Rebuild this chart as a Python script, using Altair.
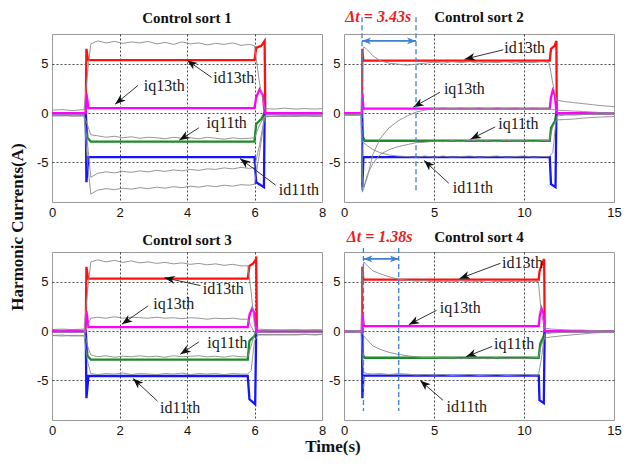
import math
import altair as alt
import pandas as pd

# ---------------- data ----------------
Y_MIN, Y_MAX = -9, 8
LEFT_XTICKS = [0, 2, 4, 6, 8]
RIGHT_XTICKS = [0, 5, 10, 15]
Y_TICKS = [-5, 0, 5]
TITLES = ["Control sort 1", "Control sort 2", "Control sort 3", "Control sort 4"]
LABELS = ["id13th", "iq13th", "iq11th", "id11th"]

# Panel 1 (0..8 s)
P1_RED_T = [0, 1.0, 1.02, 1.07, 6.0, 6.05, 6.2, 6.3, 6.32, 8]
P1_RED_V = [0, 0, 6.5, 5.35, 5.35, 6.6, 6.8, 7.3, 0, 0]
P1_MAG_T = [0, 1.0, 1.02, 1.08, 6.0, 6.05, 6.15, 6.25, 6.3, 8]
P1_MAG_V = [0, 0, 2.0, 0.5, 0.5, 1.6, 2.4, 1.8, 0, 0]
P1_GRN_T = [0, 1.0, 1.05, 1.15, 6.0, 6.05, 6.2, 6.3, 8]
P1_GRN_V = [0, 0, -2.5, -2.9, -2.9, -1.1, -0.6, 0, 0]
P1_BLU_T = [0, 1.0, 1.02, 1.08, 6.0, 6.05, 6.28, 6.3, 8]
P1_BLU_V = [0, 0, -7.0, -4.45, -4.45, -7.0, -7.5, 0, 0]
P1_GT = [0, 0.3, 0.6, 0.95, 1.05, 1.15, 1.35, 1.6, 1.85, 2.1, 2.35, 2.6, 2.85, 3.1,
         3.35, 3.6, 3.85, 4.1, 4.35, 4.6, 4.85, 5.1, 5.35, 5.6, 5.85, 6.0, 6.15, 6.3,
         6.6, 6.9, 7.2, 7.5, 7.8, 8.0]
P1_G1 = [0.3, 0.35, 0.25, 0.35, 4.0, 7.0, 7.3, 7.1, 7.25, 7.05, 7.2, 7.1, 7.25, 7.0,
         7.15, 6.95, 7.2, 7.0, 7.1, 6.9, 7.05, 6.95, 7.1, 6.85, 6.95, 6.8, 3.0, 0.45,
         0.4, 0.5, 0.4, 0.45, 0.4, 0.45]
P1_G2 = [-0.25, -0.2, -0.3, -0.25, -1.2, -2.2, -2.3, -2.45, -2.35, -2.5, -2.4, -2.55,
         -2.45, -2.5, -2.6, -2.45, -2.55, -2.5, -2.6, -2.45, -2.55, -2.65, -2.5, -2.6,
         -2.55, -2.5, -1.2, -0.3, -0.3, -0.25, -0.35, -0.3, -0.25, -0.3]
P1_G3 = [-0.25, -0.3, -0.2, -0.25, -3.0, -6.5, -6.1, -5.95, -6.05, -5.9, -6.0, -5.85,
         -5.95, -5.8, -5.9, -5.75, -5.85, -5.7, -5.8, -5.65, -5.7, -5.55, -5.65, -5.5,
         -5.6, -5.5, -3.2, -0.3, -0.35, -0.3, -0.25, -0.3, -0.35, -0.3]
P1_G4 = [-0.3, -0.25, -0.3, -0.3, -5.0, -8.2, -7.8, -7.65, -7.75, -7.6, -7.7, -7.55,
         -7.65, -7.5, -7.6, -7.45, -7.55, -7.4, -7.5, -7.35, -7.45, -7.3, -7.4, -7.25,
         -7.3, -7.2, -4.0, -0.4, -0.3, -0.35, -0.3, -0.25, -0.3, -0.3]
# label text (x, y), arrow start (x, y), arrow tip (x, y)
P1_ARROWS = [
    (4.78, 3.5, 4.73, 3.6, 4.0, 5.35),
    (2.72, 2.7, 2.55, 2.8, 1.87, 0.9),
    (4.58, -1.0, 4.35, -1.5, 3.77, -2.75),
    (6.72, -7.8, 6.63, -7.3, 5.57, -4.6),
]

# Panel 2 (0..15 s)
P2_RED_T = [0, 1.0, 1.02, 1.07, 11.43, 11.5, 11.7, 11.8, 11.82, 15]
P2_RED_V = [0, 0, 6.5, 5.3, 5.3, 6.5, 6.8, 7.3, 0, 0]
P2_MAG_T = [0, 1.0, 1.02, 1.08, 11.43, 11.5, 11.6, 11.72, 11.8, 15]
P2_MAG_V = [0, 0, 2.0, 0.45, 0.45, 1.6, 2.3, 1.8, 0, 0]
P2_GRN_T = [0, 1.0, 1.05, 1.15, 11.43, 11.5, 11.72, 11.8, 15]
P2_GRN_V = [0, 0, -2.4, -2.8, -2.8, -1.5, -0.8, 0, 0]
P2_BLU_T = [0, 1.0, 1.02, 1.08, 11.43, 11.5, 11.75, 11.8, 15]
P2_BLU_V = [0, 0, -7.5, -4.45, -4.45, -7.2, -7.5, 0, 0]
P2_GT = [0, 0.5, 0.95, 1.02, 1.1, 1.3, 1.6, 2.0, 2.5, 3.0, 3.5, 4.0, 4.5, 5.0, 5.5,
         6.0, 6.5, 7.0, 7.5, 8.0, 8.5, 9.0, 9.5, 10.0, 10.5, 11.0, 11.4, 11.6, 11.8,
         12.3, 12.8, 13.3, 13.8, 14.3, 15.0]
P2_G1 = [-0.1, -0.15, -0.1, 5.5, 6.7, 6.4, 5.8, 5.3, 5.05, 4.95, 4.85, 4.95, 5.05,
         5.15, 5.05, 5.2, 5.1, 5.2, 5.05, 5.15, 5.1, 5.2, 5.05, 5.15, 5.1, 5.2, 5.1,
         3.0, 1.3, 1.15, 1.05, 0.95, 0.85, 0.75, 0.65]
P2_G2 = [-0.2, -0.15, -0.2, -6.0, -7.5, -6.5, -4.2, -2.6, -1.5, -0.8, -0.3, 0.1, 0.3,
         0.45, 0.5, 0.45, 0.5, 0.45, 0.5, 0.45, 0.5, 0.45, 0.5, 0.45, 0.5, 0.45, 0.45,
         0.35, 0.3, 0.25, 0.2, 0.15, 0.1, 0.05, 0.05]
P2_G3 = [-0.15, -0.2, -0.15, -8.0, -7.6, -6.2, -5.1, -4.2, -3.7, -3.4, -3.2, -3.0,
         -2.95, -2.85, -2.9, -2.8, -2.9, -2.75, -2.85, -2.8, -2.9, -2.75, -2.85, -2.8,
         -2.9, -2.8, -2.8, -1.4, -0.7, -0.65, -0.6, -0.5, -0.45, -0.4, -0.35]
P2_G4 = [-0.2, -0.25, -0.2, -2.9, -3.0, -3.3, -3.7, -4.0, -4.25, -4.35, -4.4, -4.45,
         -4.35, -4.45, -4.35, -4.45, -4.4, -4.35, -4.45, -4.4, -4.35, -4.45, -4.4,
         -4.35, -4.45, -4.4, -4.4, -4.0, -0.3, -0.2, -0.2, -0.15, -0.1, -0.1, -0.05]
P2_ARROWS = [
    (8.9, 6.6, 8.85, 6.4, 6.7, 5.45),
    (5.55, 2.4, 5.33, 2.1, 3.85, 0.6),
    (8.57, -1.1, 8.4, -1.4, 7.03, -2.65),
    (6.04, -7.6, 5.82, -7.1, 4.45, -4.8),
]
P2_DT_LABEL = "\u0394t = 3.43s"
P2_DT_X = [1.0, 4.0]

# Panel 3 (0..8 s)
P3_RED_T = [0, 1.0, 1.02, 1.07, 5.8, 5.85, 5.95, 6.05, 6.07, 8]
P3_RED_V = [0, 0, 6.5, 5.3, 5.3, 6.6, 6.8, 7.3, 0, 0]
P3_MAG_T = [0, 1.0, 1.02, 1.08, 5.8, 5.85, 5.93, 6.0, 6.05, 8]
P3_MAG_V = [0, 0, 2.0, 0.4, 0.4, 1.6, 2.3, 1.8, 0, 0]
P3_GRN_T = [0, 1.0, 1.05, 1.15, 5.8, 5.85, 6.0, 6.05, 8]
P3_GRN_V = [0, 0, -2.5, -2.9, -2.9, -1.0, -0.5, 0, 0]
P3_BLU_T = [0, 1.0, 1.02, 1.08, 5.8, 5.85, 6.02, 6.05, 8]
P3_BLU_V = [0, 0, -6.8, -4.55, -4.55, -6.9, -7.4, 0, 0]
P3_GT = [0, 0.3, 0.6, 0.95, 1.05, 1.15, 1.35, 1.6, 1.85, 2.1, 2.35, 2.6, 2.85, 3.1,
         3.35, 3.6, 3.85, 4.1, 4.35, 4.6, 4.85, 5.1, 5.35, 5.6, 5.8, 5.9, 6.0, 6.1,
         6.4, 6.8, 7.2, 7.5, 7.8, 8.0]
P3_G1 = [0.15, 0.2, 0.15, 0.2, 4.0, 7.0, 7.2, 7.0, 7.15, 6.95, 7.1, 6.9, 7.0, 6.85,
         6.95, 6.8, 6.9, 6.75, 6.85, 6.7, 6.8, 6.65, 6.75, 6.6, 6.6, 4.0, 0.5, 0.2,
         0.15, 0.1, 0.15, 0.1, 0.15, 0.1]
P3_G2 = [-0.45, -0.4, -0.5, -0.45, 0.5, 1.3, 1.4, 1.3, 1.45, 1.3, 1.4, 1.35, 1.3, 1.4,
         1.3, 1.35, 1.25, 1.35, 1.3, 1.2, 1.3, 1.25, 1.3, 1.2, 1.2, 0.5, -0.2, -0.35,
         -0.35, -0.4, -0.35, -0.3, -0.35, -0.3]
P3_G3 = [0.15, 0.1, 0.15, 0.1, -1.5, -2.4, -2.6, -2.5, -2.65, -2.55, -2.6, -2.5, -2.6,
         -2.55, -2.65, -2.5, -2.6, -2.55, -2.5, -2.6, -2.55, -2.65, -2.5, -2.6, -2.6,
         -1.5, -0.3, 0.0, 0.05, 0.1, 0.05, 0.1, 0.05, 0.1]
P3_G4 = [-0.45, -0.5, -0.45, -0.5, -3.0, -4.3, -4.4, -4.3, -4.35, -4.25, -4.4, -4.3,
         -4.35, -4.4, -4.3, -4.35, -4.25, -4.4, -4.3, -4.35, -4.3, -4.4, -4.3, -4.35,
         -4.35, -4.0, -1.0, -0.4, -0.4, -0.35, -0.4, -0.35, -0.4, -0.35]
P3_ARROWS = [
    (4.47, 4.25, 4.4, 4.6, 3.33, 5.4),
    (3.0, 2.7, 2.85, 2.55, 2.07, 0.7),
    (4.6, -1.2, 4.35, -1.1, 3.8, -2.35),
    (3.2, -7.75, 3.13, -7.1, 2.4, -4.8),
]

# Panel 4 (0..15 s)
P4_RED_T = [0, 1.0, 1.02, 1.07, 10.82, 10.86, 11.0, 11.12, 11.15, 15]
P4_RED_V = [0, 0, 6.5, 5.2, 5.2, 6.0, 6.8, 7.3, 0, 0]
P4_MAG_T = [0, 1.0, 1.02, 1.1, 10.82, 10.88, 10.97, 11.08, 11.15, 15]
P4_MAG_V = [0, 0, 1.8, 0.5, 0.5, 1.6, 2.3, 1.8, 0, 0]
P4_GRN_T = [0, 1.0, 1.05, 1.15, 10.82, 10.9, 11.1, 11.15, 15]
P4_GRN_V = [0, 0, -2.4, -2.7, -2.7, -1.3, -0.5, 0, 0]
P4_BLU_T = [0, 1.0, 1.02, 1.08, 10.82, 10.86, 11.1, 11.15, 15]
P4_BLU_V = [0, 0, -6.8, -4.5, -4.5, -7.0, -7.3, 0, 0]
P4_GT = [0, 0.5, 0.95, 1.02, 1.1, 1.3, 1.6, 2.0, 2.5, 3.0, 3.5, 4.0, 4.5, 5.0, 5.5,
         6.0, 6.5, 7.0, 7.5, 8.0, 8.5, 9.0, 9.5, 10.0, 10.5, 10.8, 10.95, 11.15, 11.5,
         12.0, 12.6, 13.2, 13.8, 14.4, 15.0]
P4_G1 = [0.0, 0.05, 0.0, 5.5, 7.0, 6.6, 6.1, 5.8, 5.5, 5.25, 5.15, 5.05, 5.1, 4.95,
         5.05, 4.95, 5.1, 4.95, 5.05, 4.9, 5.05, 4.95, 5.05, 4.95, 5.05, 5.0, 2.0, 0.3,
         0.2, 0.15, 0.1, 0.1, 0.05, 0.05, 0.0]
P4_G2 = [-0.05, -0.1, -0.05, -0.2, -0.5, -0.9, -1.5, -1.85, -2.15, -2.35, -2.5, -2.6,
         -2.7, -2.65, -2.75, -2.7, -2.8, -2.7, -2.75, -2.8, -2.7, -2.8, -2.75, -2.8,
         -2.7, -2.7, -1.5, -0.7, -0.6, -0.5, -0.4, -0.3, -0.2, -0.15, -0.1]
P4_G3 = [0.0, 0.05, 0.0, -3.0, -4.2, -4.3, -4.35, -4.3, -4.4, -4.3, -4.35, -4.45,
         -4.4, -4.45, -4.4, -4.5, -4.45, -4.4, -4.5, -4.45, -4.4, -4.5, -4.45, -4.4,
         -4.45, -4.45, -3.0, -0.3, -0.2, -0.15, -0.1, -0.1, -0.05, -0.05, 0.0]
P4_ARROWS = [
    (8.78, 6.86, 8.69, 6.86, 6.41, 5.3),
    (5.32, 2.3, 5.14, 2.1, 3.6, 0.65),
    (8.33, -1.3, 8.24, -1.55, 6.78, -2.6),
    (5.7, -7.7, 5.5, -7.0, 4.23, -5.0),
]
P4_DT_LABEL = "\u0394t = 1.38s"
P4_DT_X = [1.08, 3.04]

# ---------------- styling ----------------
W, H = 270, 168
RED, MAG, GRN, BLU = "#ff1010", "#ff00ff", "#1f8a2a", "#1414ff"
GREY = "#8a8a8a"
DT_BLUE = "#3f7fd6"
SERIF = "Liberation Serif"
SANS = "Liberation Sans"
HEAD = "M0,0L-0.75,2L0,1.45L0.75,2Z"


def panel(xmax, xticks, colored, gt, greys, arrows, title, title_y, dt=None, extra=None):
    kx = W / xmax
    ky = H / (Y_MAX - Y_MIN)
    inner_x = [v for v in xticks if 0 < v < xmax]
    xax = alt.Axis(values=xticks, title=None, grid=True, labelExpr="'' + datum.value",
                   labelFlush=False,
                   gridOpacity=alt.condition(" || ".join(f"datum.value == {v}" for v in inner_x),
                                             alt.value(0.9), alt.value(0)))
    yax = alt.Axis(values=Y_TICKS, title=None, grid=True, labelExpr="'' + datum.value",
                   labelFlush=False,
                   gridOpacity=alt.condition("datum.value == 0 || datum.value == 5 || datum.value == -5",
                                             alt.value(0.9), alt.value(0)))
    xs = alt.Scale(domain=[0, xmax], nice=False, zero=False)
    ys = alt.Scale(domain=[Y_MIN, Y_MAX], nice=False, zero=False)

    def X(f):
        return alt.X(f, type="quantitative", scale=xs, axis=xax)

    def Y(f):
        return alt.Y(f, type="quantitative", scale=ys, axis=yax)

    layers = []
    for (tt, vv), col in zip(colored, [RED, GRN, BLU, MAG]):
        df = pd.DataFrame({"t": tt, "v": vv, "i": list(range(len(tt)))})
        layers.append(alt.Chart(df).mark_line(color=col, strokeWidth=2.3)
                      .encode(x=X("t"), y=Y("v"), order=alt.Order("i:Q")))
    rows = []
    for k, g in enumerate(greys):
        for i, (t, v) in enumerate(zip(gt, g)):
            rows.append({"t": t, "v": v, "s": f"g{k}", "i": i})
    layers.append(alt.Chart(pd.DataFrame(rows)).mark_line(color=GREY, strokeWidth=0.9)
                  .encode(x=X("t"), y=Y("v"), detail="s:N", order=alt.Order("i:Q")))

    arows = []
    for lab, (tx, ty, x0, y0, x1, y1) in zip(LABELS, arrows):
        ang = math.degrees(math.atan2((x1 - x0) * kx, (y1 - y0) * ky)) % 360
        arows.append({"lab": lab, "tx": tx, "ty": ty, "x0": x0, "y0": y0,
                      "x1": x1, "y1": y1, "ang": ang})
    adf = pd.DataFrame(arows)
    layers.append(alt.Chart(adf).mark_rule(color="#333333", strokeWidth=1)
                  .encode(x=X("x0"), y=Y("y0"), x2="x1", y2="y1"))
    layers.append(alt.Chart(adf).mark_point(shape=HEAD, filled=True, color="#111111",
                                            size=110, opacity=1)
                  .encode(x=X("x1"), y=Y("y1"), angle=alt.Angle("ang:Q", scale=None)))
    layers.append(alt.Chart(adf).mark_text(align="left", baseline="middle", font=SERIF,
                                           fontSize=16, color="#1a1a1a")
                  .encode(x=X("tx"), y=Y("ty"), text="lab:N"))

    if dt is not None:
        label, (xa, xb), ytop, ylab = dt
        ddf = pd.DataFrame({"x": [xa, xb], "y0": [ytop, ytop], "y1": [-8.1, -8.1]})
        layers.append(alt.Chart(ddf).mark_rule(color=DT_BLUE, strokeWidth=1.3,
                                               strokeDash=[5, 3])
                      .encode(x=X("x"), y=Y("y0"), y2="y1"))
        sdf = pd.DataFrame({"x0": [xa], "x1": [xb], "y": [7.3]})
        layers.append(alt.Chart(sdf).mark_rule(color=DT_BLUE, strokeWidth=1.8)
                      .encode(x=X("x0"), x2="x1", y=Y("y")))
        hdf = pd.DataFrame({"x": [xa, xb], "y": [7.3, 7.3], "ang": [270, 90]})
        layers.append(alt.Chart(hdf).mark_point(shape=HEAD, filled=True, color=DT_BLUE,
                                                size=80, opacity=1)
                      .encode(x=X("x"), y=Y("y"), angle=alt.Angle("ang:Q", scale=None)))
        tdf = pd.DataFrame({"x": [(xa + 0.9)], "lab": [label]})
        layers.append(alt.Chart(tdf).mark_text(font=SERIF, fontSize=16, fontWeight="bold",
                                               fontStyle="italic", color="#ee1c25",
                                               align="center", baseline="middle")
                      .encode(x=X("x"), y=alt.value(ylab), text="lab:N"))

    tt_df = pd.DataFrame({"lab": [title]})
    layers.append(alt.Chart(tt_df).mark_text(font=SERIF, fontSize=15, fontWeight="bold",
                                             color="#111111", align="center",
                                             baseline="middle")
                  .encode(x=alt.value(W / 2), y=alt.value(title_y), text="lab:N"))
    if extra is not None:
        layers.extend(extra)

    return alt.layer(*layers).properties(width=W, height=H)


gdf = pd.DataFrame({"a": [0]})
global_texts = [
    alt.Chart(gdf).mark_text(text="Harmonic Currents(A)", font=SERIF, fontSize=17,
                             fontWeight="bold", angle=270, color="#111111",
                             baseline="middle", align="center")
    .encode(x=alt.value(-34), y=alt.value(-25)),
    alt.Chart(gdf).mark_text(text="Time(s)", font=SERIF, fontSize=17, fontWeight="bold",
                             color="#111111", baseline="middle", align="center")
    .encode(x=alt.value(281), y=alt.value(195)),
]

p1 = panel(8, LEFT_XTICKS,
           [(P1_RED_T, P1_RED_V), (P1_GRN_T, P1_GRN_V), (P1_BLU_T, P1_BLU_V), (P1_MAG_T, P1_MAG_V)],
           P1_GT, [P1_G1, P1_G2, P1_G3, P1_G4], P1_ARROWS, TITLES[0], -16)
p2 = panel(15, RIGHT_XTICKS,
           [(P2_RED_T, P2_RED_V), (P2_GRN_T, P2_GRN_V), (P2_BLU_T, P2_BLU_V), (P2_MAG_T, P2_MAG_V)],
           P2_GT, [P2_G1, P2_G2, P2_G3, P2_G4], P2_ARROWS, TITLES[1], -17,
           dt=(P2_DT_LABEL, P2_DT_X, 9.7, -17))
p3 = panel(8, LEFT_XTICKS,
           [(P3_RED_T, P3_RED_V), (P3_GRN_T, P3_GRN_V), (P3_BLU_T, P3_BLU_V), (P3_MAG_T, P3_MAG_V)],
           P3_GT, [P3_G1, P3_G2, P3_G3, P3_G4], P3_ARROWS, TITLES[2], -12,
           extra=global_texts)
p4 = panel(15, RIGHT_XTICKS,
           [(P4_RED_T, P4_RED_V), (P4_GRN_T, P4_GRN_V), (P4_BLU_T, P4_BLU_V), (P4_MAG_T, P4_MAG_V)],
           P4_GT, [P4_G1, P4_G2, P4_G3], P4_ARROWS, TITLES[3], -15,
           dt=(P4_DT_LABEL, P4_DT_X, 8.4, -15))

chart = alt.concat(p1, p2, p3, p4, columns=2, spacing={"row": 50, "column": 22},
                   bounds="flush").properties(
    padding={"left": 0, "top": 0, "right": 0, "bottom": 0}
).configure_view(stroke="#9a9a9a", strokeWidth=1).configure_axis(
    domain=False, ticks=False, gridColor="#000000", gridDash=[2, 2], gridWidth=0.8,
    labelFont=SANS, labelFontSize=13, labelColor="#111111", labelPadding=4,
    labelFlush=False
)

chart.save("out.html", embed_options={"renderer": "svg", "actions": False})
